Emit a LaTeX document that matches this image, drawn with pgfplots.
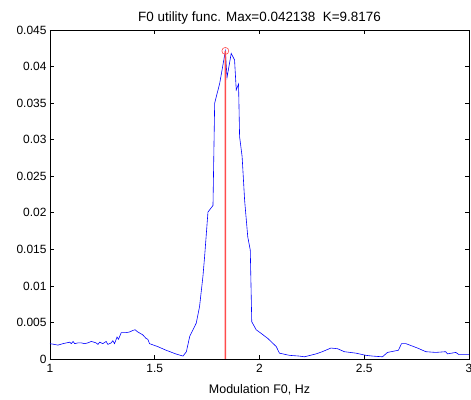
\documentclass[border=0pt]{standalone}
\usepackage{fontspec}
\setmainfont{Liberation Sans}
\usepackage{pgfplots}
\pgfplotsset{compat=1.18}

\definecolor{peakred}{rgb}{1,0.3,0.3}

\begin{document}
\begin{tikzpicture}
\begin{axis}[
  at={(0,0)}, anchor=south west,
  scale only axis, width=419bp, height=329bp,
  xmin=1, xmax=3, ymin=0, ymax=0.045,
  xtick={1,1.5,2,2.5,3},
  ytick={0,0.005,0.01,0.015,0.02,0.025,0.03,0.035,0.04,0.045},
  scaled y ticks=false,
  yticklabel style={/pgf/number format/fixed, /pgf/number format/precision=3},
  xticklabel style={yshift=-2bp},
  /pgf/number format/assume math mode=true,
  tick align=inside, major tick length=4bp,
  axis line style={line width=0.7pt},
  tick style={line width=0.6pt, black},
  ticklabel style={font=\fontsize{12}{14}\selectfont},
  title={F0 utility func. Max=0.042138\ \ K=9.8176},
  title style={font=\fontsize{13.5}{16}\selectfont, yshift=-4bp},
  xlabel={Modulation F0, Hz},
  xlabel style={font=\fontsize{12.5}{14}\selectfont, yshift=-5bp},
]
\addplot[blue, line width=0.6pt] coordinates {
  (1.000,0.0021) (1.020,0.0020) (1.038,0.0019) (1.062,0.0021) (1.078,0.0022)
  (1.094,0.0023) (1.102,0.0021) (1.110,0.0024) (1.118,0.0021) (1.133,0.0022)
  (1.150,0.0022) (1.165,0.0021) (1.180,0.0022) (1.197,0.0024) (1.210,0.0023)
  (1.220,0.0022) (1.229,0.0020) (1.237,0.0023) (1.252,0.0021) (1.268,0.0024)
  (1.276,0.0020) (1.292,0.0022) (1.300,0.0025) (1.308,0.0021) (1.320,0.0030)
  (1.327,0.0027) (1.340,0.0036) (1.363,0.0036) (1.380,0.0037) (1.395,0.0039)
  (1.406,0.0040) (1.419,0.0037) (1.443,0.0033) (1.459,0.0028) (1.467,0.0027)
  (1.475,0.0021) (1.514,0.0017) (1.554,0.0012) (1.600,0.0007) (1.635,0.0004)
  (1.651,0.0010) (1.667,0.0031) (1.698,0.0049) (1.714,0.0072) (1.730,0.0113)
  (1.738,0.0140) (1.754,0.0201) (1.778,0.0210) (1.786,0.0350) (1.810,0.0377)
  (1.837,0.0421) (1.845,0.0385) (1.865,0.0418) (1.881,0.0409) (1.889,0.0368)
  (1.900,0.0376) (1.905,0.0304) (1.917,0.0277) (1.929,0.0217) (1.944,0.0167)
  (1.956,0.0149) (1.963,0.0051) (1.984,0.0040) (2.008,0.0035) (2.040,0.0028)
  (2.080,0.0017) (2.095,0.0008) (2.143,0.0005) (2.190,0.0004) (2.214,0.0003)
  (2.270,0.0007) (2.300,0.0010) (2.341,0.0015) (2.373,0.0014) (2.405,0.0010)
  (2.460,0.0008) (2.508,0.0005) (2.540,0.0004) (2.587,0.0003) (2.611,0.0009)
  (2.663,0.0012) (2.678,0.0021) (2.699,0.0021) (2.754,0.0015) (2.794,0.0010)
  (2.841,0.0009) (2.889,0.0010) (2.897,0.0007) (2.937,0.0009) (2.952,0.0006)
  (3.000,0.0006)
};
% peak marker (tiny x offsets keep the stroke from being a zero-width path)
\addplot[peakred, line width=1.5pt] coordinates {(1.8369,0) (1.8370,0.0210) (1.8371,0.042138)};
\addplot[peakred, only marks, mark=o, mark size=3.5bp, mark options={line width=0.6pt}] coordinates {(1.837,0.042138)};
\end{axis}
\pgfresetboundingbox
\path[use as bounding box] (-50bp,-41bp) rectangle (421bp,359bp);
\end{tikzpicture}
\end{document}
